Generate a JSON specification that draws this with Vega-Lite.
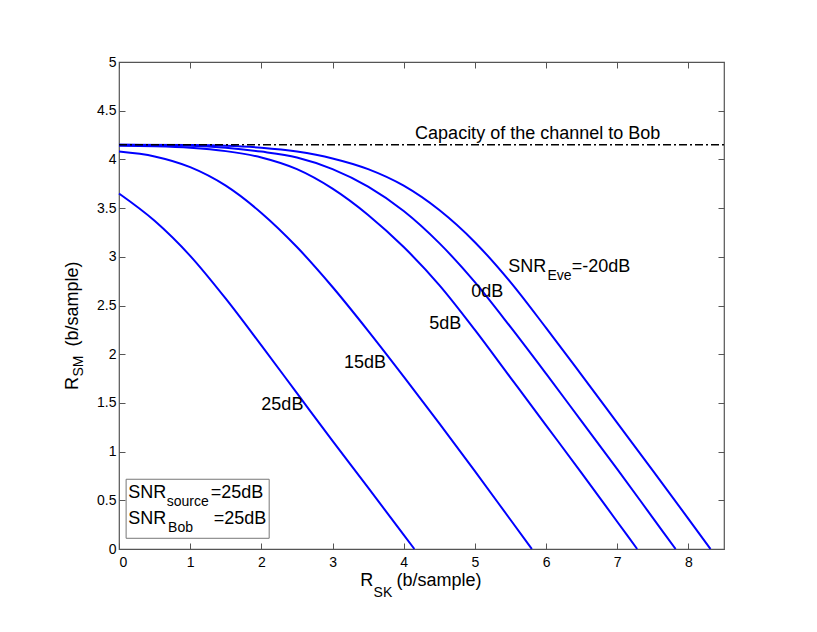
{
  "$schema": "https://vega.github.io/schema/vega-lite/v6.json",
  "width": 605,
  "height": 487,
  "autosize": {"type": "none"},
  "padding": {"left": 119, "top": 62, "right": 93, "bottom": 83},
  "background": "white",
  "config": {
    "view": {"stroke": "#555555", "strokeWidth": 1.2},
    "font": "Liberation Sans",
    "axis": {
      "grid": false,
      "domain": false,
      "tickColor": "#555555",
      "tickWidth": 1,
      "tickSize": -6,
      "labelFont": "Liberation Sans",
      "labelFontSize": 14,
      "labelColor": "#000000",
      "title": null
    }
  },
  "datasets": {
    "curves": [
      {"snr": "-20dB", "x": 0, "y": 4.15}, {"snr": "-20dB", "x": 1, "y": 4.147}, {"snr": "-20dB", "x": 1.5, "y": 4.14}, {"snr": "-20dB", "x": 2, "y": 4.12}, {"snr": "-20dB", "x": 2.5, "y": 4.08}, {"snr": "-20dB", "x": 3, "y": 4.01}, {"snr": "-20dB", "x": 3.5, "y": 3.9}, {"snr": "-20dB", "x": 4, "y": 3.73}, {"snr": "-20dB", "x": 4.5, "y": 3.48}, {"snr": "-20dB", "x": 5, "y": 3.15}, {"snr": "-20dB", "x": 5.5, "y": 2.74}, {"snr": "-20dB", "x": 6, "y": 2.27}, {"snr": "-20dB", "x": 6.5, "y": 1.785}, {"snr": "-20dB", "x": 7, "y": 1.295}, {"snr": "-20dB", "x": 7.5, "y": 0.805}, {"snr": "-20dB", "x": 8, "y": 0.31}, {"snr": "-20dB", "x": 8.31, "y": 0},
      {"snr": "0dB", "x": 0, "y": 4.15}, {"snr": "0dB", "x": 1, "y": 4.14}, {"snr": "0dB", "x": 1.5, "y": 4.12}, {"snr": "0dB", "x": 2, "y": 4.08}, {"snr": "0dB", "x": 2.5, "y": 4.02}, {"snr": "0dB", "x": 3, "y": 3.9}, {"snr": "0dB", "x": 3.5, "y": 3.72}, {"snr": "0dB", "x": 4, "y": 3.47}, {"snr": "0dB", "x": 4.5, "y": 3.14}, {"snr": "0dB", "x": 5, "y": 2.74}, {"snr": "0dB", "x": 5.5, "y": 2.28}, {"snr": "0dB", "x": 6, "y": 1.8}, {"snr": "0dB", "x": 6.5, "y": 1.31}, {"snr": "0dB", "x": 7, "y": 0.82}, {"snr": "0dB", "x": 7.5, "y": 0.32}, {"snr": "0dB", "x": 7.82, "y": 0},
      {"snr": "5dB", "x": 0, "y": 4.14}, {"snr": "5dB", "x": 0.5, "y": 4.135}, {"snr": "5dB", "x": 1, "y": 4.12}, {"snr": "5dB", "x": 1.5, "y": 4.085}, {"snr": "5dB", "x": 2, "y": 4.02}, {"snr": "5dB", "x": 2.5, "y": 3.9}, {"snr": "5dB", "x": 3, "y": 3.7}, {"snr": "5dB", "x": 3.5, "y": 3.43}, {"snr": "5dB", "x": 4, "y": 3.1}, {"snr": "5dB", "x": 4.5, "y": 2.71}, {"snr": "5dB", "x": 5, "y": 2.25}, {"snr": "5dB", "x": 5.5, "y": 1.76}, {"snr": "5dB", "x": 6, "y": 1.27}, {"snr": "5dB", "x": 6.5, "y": 0.78}, {"snr": "5dB", "x": 7, "y": 0.28}, {"snr": "5dB", "x": 7.28, "y": 0},
      {"snr": "15dB", "x": 0, "y": 4.08}, {"snr": "15dB", "x": 0.5, "y": 4.03}, {"snr": "15dB", "x": 1, "y": 3.92}, {"snr": "15dB", "x": 1.5, "y": 3.73}, {"snr": "15dB", "x": 2, "y": 3.45}, {"snr": "15dB", "x": 2.5, "y": 3.1}, {"snr": "15dB", "x": 3, "y": 2.69}, {"snr": "15dB", "x": 3.5, "y": 2.24}, {"snr": "15dB", "x": 4, "y": 1.77}, {"snr": "15dB", "x": 4.5, "y": 1.29}, {"snr": "15dB", "x": 5, "y": 0.8}, {"snr": "15dB", "x": 5.5, "y": 0.3}, {"snr": "15dB", "x": 5.8, "y": 0},
      {"snr": "25dB", "x": 0, "y": 3.65}, {"snr": "25dB", "x": 0.5, "y": 3.37}, {"snr": "25dB", "x": 1, "y": 3.01}, {"snr": "25dB", "x": 1.5, "y": 2.57}, {"snr": "25dB", "x": 2, "y": 2.09}, {"snr": "25dB", "x": 2.5, "y": 1.6}, {"snr": "25dB", "x": 3, "y": 1.11}, {"snr": "25dB", "x": 3.5, "y": 0.63}, {"snr": "25dB", "x": 4, "y": 0.145}, {"snr": "25dB", "x": 4.15, "y": 0}
    ],
    "capacity": [{"x": 0, "y": 4.15}, {"x": 8.5, "y": 4.15}],
    "box": [{"x": 0.1, "x2": 2.11, "y": 0.716, "y2": 0.11}],
    "labels": [
      {"x": 4.16, "y": 4.21, "text": "Capacity of the channel to Bob"},
      {"x": 5.47, "y": 2.84, "text": "SNR"},
      {"x": 6.36, "y": 2.84, "text": "=-20dB"},
      {"x": 4.95, "y": 2.59, "text": "0dB"},
      {"x": 4.36, "y": 2.26, "text": "5dB"},
      {"x": 3.16, "y": 1.855, "text": "15dB"},
      {"x": 2.0, "y": 1.43, "text": "25dB"},
      {"x": 0.13, "y": 0.52, "text": "SNR"},
      {"x": 1.29, "y": 0.52, "text": "=25dB"},
      {"x": 0.13, "y": 0.257, "text": "SNR"},
      {"x": 1.33, "y": 0.257, "text": "=25dB"},
      {"x": 3.39, "y": -0.375, "text": "R"},
      {"x": 3.9, "y": -0.375, "text": "(b/sample)"}
    ],
    "subs": [
      {"x": 6.02, "y": 2.84, "text": "Eve"},
      {"x": 0.67, "y": 0.52, "text": "source"},
      {"x": 0.69, "y": 0.257, "text": "Bob"}
    ],
    "xsub": [{"x": 3.577, "y": -0.375, "text": "SK"}],
    "ytitle": [
      {"x": -0.577, "y": 1.632, "text": "R"},
      {"x": -0.577, "y": 2.08, "text": "(b/sample)"}
    ],
    "ysub": [{"x": -0.577, "y": 1.77, "text": "SM"}]
  },
  "layer": [
    {
      "data": {"name": "curves"},
      "mark": {"type": "line", "color": "#0000ff", "strokeWidth": 2, "interpolate": "monotone"},
      "encoding": {
        "x": {"field": "x", "type": "quantitative", "scale": {"domain": [0, 8.5], "nice": false, "zero": false}, "axis": {"orient": "bottom", "values": [0, 1, 2, 3, 4, 5, 6, 7, 8], "labelPadding": 12}},
        "y": {"field": "y", "type": "quantitative", "scale": {"domain": [0, 5], "nice": false, "zero": false}, "axis": {"orient": "left", "values": [0, 0.5, 1, 1.5, 2, 2.5, 3, 3.5, 4, 4.5, 5], "format": "~g", "labelPadding": 9}},
        "detail": {"field": "snr"}
      }
    },
    {
      "data": {"name": "capacity"},
      "mark": {"type": "line", "color": "#000000", "strokeWidth": 1.5, "strokeDash": [8, 3, 2, 3]},
      "encoding": {
        "x": {"field": "x", "type": "quantitative", "scale": {"domain": [0, 8.5], "nice": false, "zero": false}, "axis": {"orient": "top", "labels": false, "values": [0, 1, 2, 3, 4, 5, 6, 7, 8]}},
        "y": {"field": "y", "type": "quantitative", "scale": {"domain": [0, 5], "nice": false, "zero": false}, "axis": {"orient": "right", "labels": false, "values": [0, 0.5, 1, 1.5, 2, 2.5, 3, 3.5, 4, 4.5, 5]}}
      }
    },
    {
      "data": {"name": "box"},
      "mark": {"type": "rect", "fill": "white", "stroke": "#777777", "strokeWidth": 1},
      "encoding": {
        "x": {"field": "x", "type": "quantitative", "scale": {"domain": [0, 8.5], "nice": false, "zero": false}, "axis": null},
        "x2": {"field": "x2"},
        "y": {"field": "y", "type": "quantitative", "scale": {"domain": [0, 5], "nice": false, "zero": false}, "axis": null},
        "y2": {"field": "y2"}
      }
    },
    {
      "data": {"name": "labels"},
      "mark": {"type": "text", "align": "left", "baseline": "alphabetic", "fontSize": 18, "font": "Liberation Sans", "color": "#000000"},
      "encoding": {
        "x": {"field": "x", "type": "quantitative", "scale": {"domain": [0, 8.5], "nice": false, "zero": false}, "axis": null},
        "y": {"field": "y", "type": "quantitative", "scale": {"domain": [0, 5], "nice": false, "zero": false}, "axis": null},
        "text": {"field": "text"}
      }
    },
    {
      "data": {"name": "subs"},
      "mark": {"type": "text", "align": "left", "baseline": "alphabetic", "fontSize": 14, "dy": 8, "font": "Liberation Sans", "color": "#000000"},
      "encoding": {
        "x": {"field": "x", "type": "quantitative", "scale": {"domain": [0, 8.5], "nice": false, "zero": false}, "axis": null},
        "y": {"field": "y", "type": "quantitative", "scale": {"domain": [0, 5], "nice": false, "zero": false}, "axis": null},
        "text": {"field": "text"}
      }
    },
    {
      "data": {"name": "xsub"},
      "mark": {"type": "text", "align": "left", "baseline": "alphabetic", "fontSize": 14, "dy": 11, "font": "Liberation Sans", "color": "#000000"},
      "encoding": {
        "x": {"field": "x", "type": "quantitative", "scale": {"domain": [0, 8.5], "nice": false, "zero": false}, "axis": null},
        "y": {"field": "y", "type": "quantitative", "scale": {"domain": [0, 5], "nice": false, "zero": false}, "axis": null},
        "text": {"field": "text"}
      }
    },
    {
      "data": {"name": "ytitle"},
      "mark": {"type": "text", "align": "left", "baseline": "alphabetic", "fontSize": 18, "angle": 270, "font": "Liberation Sans", "color": "#000000"},
      "encoding": {
        "x": {"field": "x", "type": "quantitative", "scale": {"domain": [0, 8.5], "nice": false, "zero": false}, "axis": null},
        "y": {"field": "y", "type": "quantitative", "scale": {"domain": [0, 5], "nice": false, "zero": false}, "axis": null},
        "text": {"field": "text"}
      }
    },
    {
      "data": {"name": "ysub"},
      "mark": {"type": "text", "align": "left", "baseline": "alphabetic", "fontSize": 14, "angle": 270, "dy": 5, "font": "Liberation Sans", "color": "#000000"},
      "encoding": {
        "x": {"field": "x", "type": "quantitative", "scale": {"domain": [0, 8.5], "nice": false, "zero": false}, "axis": null},
        "y": {"field": "y", "type": "quantitative", "scale": {"domain": [0, 5], "nice": false, "zero": false}, "axis": null},
        "text": {"field": "text"}
      }
    }
  ],
  "resolve": {"axis": {"x": "independent", "y": "independent"}}
}
